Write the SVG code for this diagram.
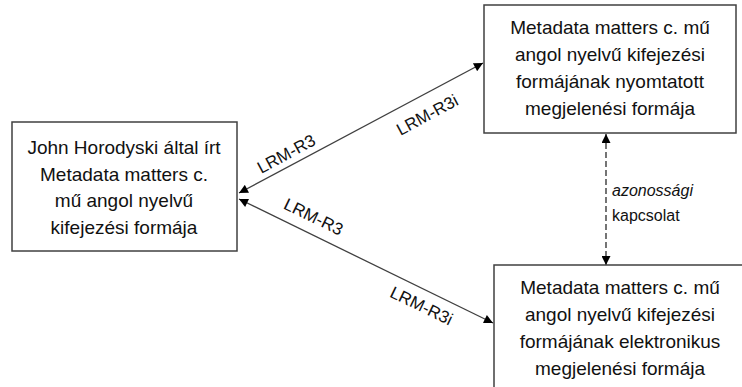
<svg xmlns="http://www.w3.org/2000/svg" width="742" height="387" viewBox="0 0 742 387">
<style>
.box{fill:#fff;stroke:#404040;stroke-width:1.5}
.t{font-family:"Liberation Sans",Arial,sans-serif;font-size:19px;fill:#111;text-anchor:middle}
.lbl{font-family:"Liberation Sans",Arial,sans-serif;font-size:17px;fill:#111;text-anchor:middle}
.side{font-family:"Liberation Sans",Arial,sans-serif;font-size:16px;fill:#111}
.ln{stroke:#404040;stroke-width:1.3;fill:none}
.dash{stroke:#1a1a1a;stroke-width:1.2;fill:none;stroke-dasharray:6 3}
</style>
<defs>
<marker id="ah" viewBox="0 0 10 10" refX="10" refY="5" markerWidth="10" markerHeight="9" markerUnits="userSpaceOnUse" orient="auto-start-reverse">
<path d="M0,0 L10,5 L0,10 z" fill="#000"/>
</marker>
</defs>
<g id="connectors">
<line class="ln" x1="239" y1="193" x2="483" y2="63" marker-start="url(#ah)" marker-end="url(#ah)"/>
<line class="ln" x1="239" y1="199" x2="493" y2="323" marker-start="url(#ah)" marker-end="url(#ah)"/>
<line class="dash" x1="606" y1="134" x2="606" y2="265" marker-start="url(#ah)" marker-end="url(#ah)"/>
<text class="lbl" transform="translate(289,159) rotate(-28.3)">LRM-R3</text>
<text class="lbl" transform="translate(430,120) rotate(-28.3)">LRM-R3i</text>
<text class="lbl" transform="translate(311,222) rotate(25.8)">LRM-R3</text>
<text class="lbl" transform="translate(419,311) rotate(25.8)">LRM-R3i</text>
<text class="side" x="612" y="196" font-style="italic">azonossági</text>
<text class="side" x="612" y="221">kapcsolat</text>
</g>
<g id="node-expression">
<rect class="box" x="12" y="122" width="225" height="129"/>
<text class="t" x="124" y="154">John Horodyski által írt</text>
<text class="t" x="124" y="181">Metadata matters c.</text>
<text class="t" x="124" y="207">mű angol nyelvű</text>
<text class="t" x="124" y="234">kifejezési formája</text>
</g>
<g id="node-print">
<rect class="box" x="484" y="5" width="252" height="128"/>
<text class="t" x="610" y="34">Metadata matters c. mű</text>
<text class="t" x="610" y="61">angol nyelvű kifejezési</text>
<text class="t" x="610" y="88">formájának nyomtatott</text>
<text class="t" x="610" y="115">megjelenési formája</text>
</g>
<g id="node-electronic">
<rect class="box" x="494" y="265" width="260" height="140"/>
<text class="t" x="620" y="294">Metadata matters c. mű</text>
<text class="t" x="620" y="321">angol nyelvű kifejezési</text>
<text class="t" x="620" y="348">formájának elektronikus</text>
<text class="t" x="620" y="375">megjelenési formája</text>
</g>
</svg>
